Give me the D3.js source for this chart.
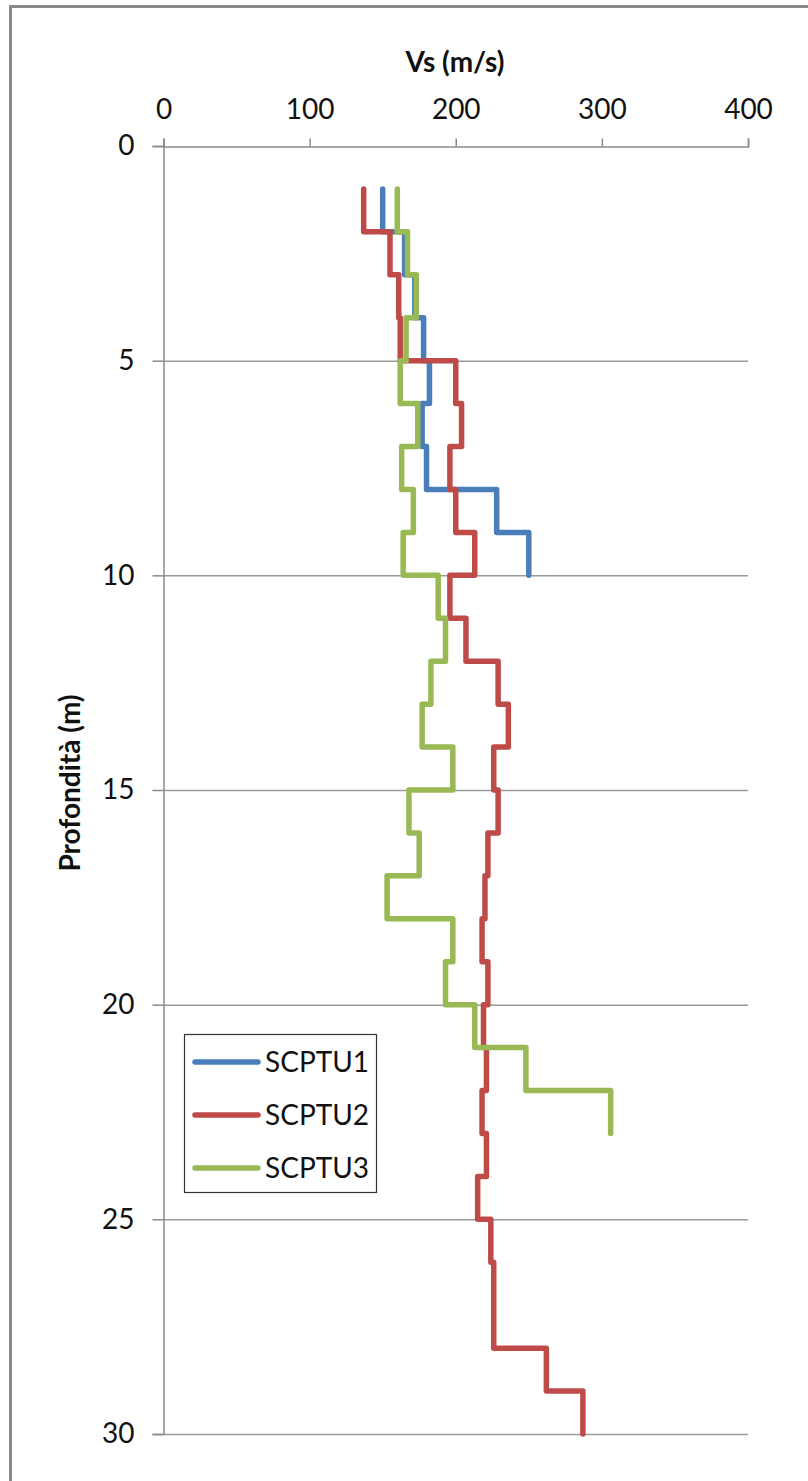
<!DOCTYPE html>
<html>
<head>
<meta charset="utf-8">
<script src="https://cdn.jsdelivr.net/npm/d3@7"></script>
<style>
  html, body { margin: 0; padding: 0; background: #fff; }
  svg { display: block; }
  text { font-family: "Lato", "Open Sans", sans-serif; fill: #111; }
</style>
</head>
<body>
<svg id="chart" width="808" height="1481"></svg>
<script>
// Layer boundaries (m) for each SCPTU test: each layer spans [top, top + 1]
const depthTop1 = [1, 2, 3, 4, 5, 6, 7, 8, 9];
const vs1 = [150, 165, 172, 178, 182, 177, 180, 228, 250];

const depthTop2 = [1, 2, 3, 4, 5, 6, 7, 8, 9, 10, 11, 12, 13, 14, 15, 16, 17, 18, 19, 20,
                   21, 22, 23, 24, 25, 26, 27, 28, 29];
const vs2 = [137, 155, 161, 162, 200, 204, 196, 200, 213, 196, 207, 229, 236, 226, 229, 222, 220, 218, 222, 219,
             221, 218, 221, 215, 224, 226, 226, 262, 287];

const depthTop3 = [1, 2, 3, 4, 5, 6, 7, 8, 9, 10, 11, 12, 13, 14, 15, 16, 17, 18, 19, 20, 21, 22];
const vs3 = [160, 167, 173, 166, 162, 174, 163, 171, 164, 188, 193, 183, 177, 198, 168, 175, 153, 198, 193, 213, 248, 306];

const layerThickness = 1;

const seriesNames = ["SCPTU1", "SCPTU2", "SCPTU3"];
const seriesColors = ["#4a7ebb", "#be4b48", "#98b954"];

const xTicks = [0, 100, 200, 300, 400];
const yTicks = [0, 5, 10, 15, 20, 25, 30];

const xTitle = "Vs (m/s)";
const yTitle = "Profondità (m)";

const svg = d3.select("#chart");

// Outer chart frame
svg.append("rect")
  .attr("x", 10.5).attr("y", 6.5)
  .attr("width", 1000).attr("height", 1600)
  .attr("fill", "none")
  .attr("stroke", "#8a8a8a")
  .attr("stroke-width", 3);

const plot = { left: 163.5, right: 748, top: 146, bottom: 1434 };

const x = d3.scaleLinear().domain([0, 400]).range([plot.left, plot.right]);
const y = d3.scaleLinear().domain([0, 30]).range([plot.top, plot.bottom]);

// Horizontal gridlines
svg.append("g")
  .selectAll("line")
  .data(yTicks.slice(1))
  .join("line")
  .attr("x1", plot.left).attr("x2", plot.right)
  .attr("y1", d => y(d) + 0.5).attr("y2", d => y(d) + 0.5)
  .attr("stroke", "#9a9a9a")
  .attr("stroke-width", 1.5);

// Top axis
const xAxis = svg.append("g")
  .attr("transform", `translate(0,${plot.top + 0.5})`)
  .call(d3.axisTop(x).tickValues(xTicks).tickSize(8).tickPadding(20).tickFormat(d3.format("d")));
xAxis.select(".domain").attr("stroke", "#8a8a8a").attr("stroke-width", 1.5);
xAxis.selectAll(".tick line").attr("stroke", "#8a8a8a").attr("stroke-width", 1.5);
xAxis.selectAll(".tick text")
  .attr("font-size", 28)
  .attr("fill", "#111")
  .style("font-family", "Lato, 'Open Sans', sans-serif");

// Left axis
const yAxis = svg.append("g")
  .attr("transform", `translate(${plot.left},0)`)
  .call(d3.axisLeft(y).tickValues(yTicks).tickSize(11).tickPadding(18).tickFormat(d3.format("d")));
yAxis.select(".domain").attr("stroke", "#8a8a8a").attr("stroke-width", 1.5);
yAxis.selectAll(".tick line").attr("stroke", "#8a8a8a").attr("stroke-width", 1.5);
yAxis.selectAll(".tick text")
  .attr("font-size", 28)
  .attr("fill", "#111")
  .style("font-family", "Lato, 'Open Sans', sans-serif");

// Axis titles
svg.append("text")
  .attr("x", 455).attr("y", 72)
  .attr("text-anchor", "middle")
  .attr("font-size", 28)
  .attr("font-weight", "bold")
  .text(xTitle);

svg.append("text")
  .attr("transform", `translate(80,${783}) rotate(-90)`)
  .attr("text-anchor", "middle")
  .attr("font-size", 28)
  .attr("font-weight", "bold")
  .text(yTitle);

// Step profiles: each layer is a vertical segment at its Vs value
function stepPoints(tops, values) {
  const pts = [];
  tops.forEach((t, i) => {
    pts.push([values[i], t]);
    pts.push([values[i], t + layerThickness]);
  });
  return pts;
}

const series = [
  { name: seriesNames[0], color: seriesColors[0], pts: stepPoints(depthTop1, vs1) },
  { name: seriesNames[1], color: seriesColors[1], pts: stepPoints(depthTop2, vs2) },
  { name: seriesNames[2], color: seriesColors[2], pts: stepPoints(depthTop3, vs3) }
];

const line = d3.line().x(d => x(d[0])).y(d => y(d[1]));

svg.append("g")
  .selectAll("path")
  .data(series)
  .join("path")
  .attr("d", d => line(d.pts))
  .attr("fill", "none")
  .attr("stroke", d => d.color)
  .attr("stroke-width", 5.5)
  .attr("stroke-linejoin", "round")
  .attr("stroke-linecap", "round");

// Legend
const legend = svg.append("g");
legend.append("rect")
  .attr("x", 184.5).attr("y", 1034.5)
  .attr("width", 192).attr("height", 158)
  .attr("fill", "#fff")
  .attr("stroke", "#333")
  .attr("stroke-width", 1.2);

const rowY = [1062, 1115, 1168];
const rows = legend.selectAll("g.row")
  .data(series)
  .join("g")
  .attr("class", "row")
  .attr("transform", (d, i) => `translate(0,${rowY[i]})`);
rows.append("line")
  .attr("x1", 195).attr("x2", 258)
  .attr("stroke", d => d.color)
  .attr("stroke-width", 5.5)
  .attr("stroke-linecap", "round");
rows.append("text")
  .attr("x", 265)
  .attr("dy", "0.35em")
  .attr("font-size", 28)
  .text(d => d.name);
</script>
</body>
</html>
